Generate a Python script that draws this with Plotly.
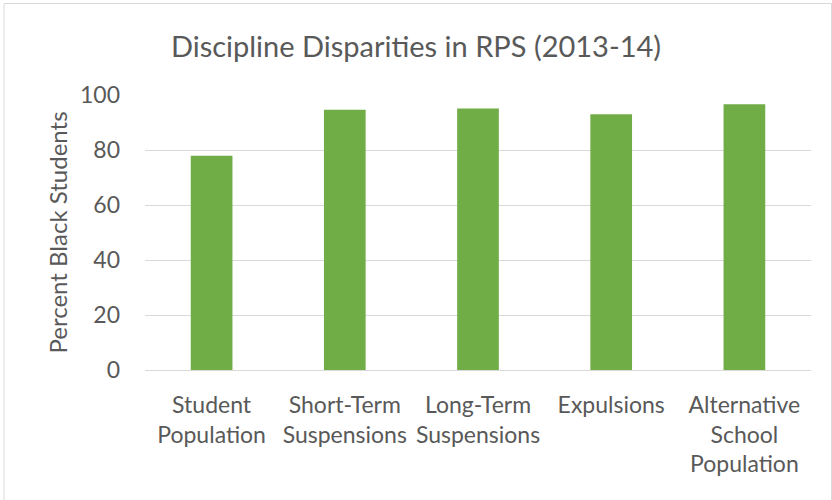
import plotly.graph_objects as go

categories = ["Student<br>Population", "Short-Term<br>Suspensions", "Long-Term<br>Suspensions",
              "Expulsions", "Alternative<br>School<br>Population"]
values = [77.9, 94.6, 95.1, 93.0, 96.6]
y_ticks = [0, 20, 40, 60, 80, 100]

FONT = "Lato"
TXT = "#595959"

fig = go.Figure(go.Bar(x=categories, y=values, marker=dict(color="#70AD47", line=dict(width=0)),
                       hoverinfo="x+y"))

fig.update_layout(
    width=832, height=500,
    paper_bgcolor="white", plot_bgcolor="white",
    margin=dict(l=145, r=21, t=95, b=130, autoexpand=False),
    bargap=0.687,
    font=dict(family=FONT, color=TXT, size=23),
    title=dict(text="Discipline Disparities in RPS (2013-14)", x=0.5, xanchor="center",
               y=1 - 47 / 500, yanchor="middle", font=dict(size=29, color=TXT, family=FONT)),
    showlegend=False,
    shapes=[dict(type="rect", xref="paper", yref="paper",
                 x0=(4 - 145) / 666, x1=(831.5 - 145) / 666,
                 y0=-(500 - 370 + 5) / 275, y1=1 + (95 - 3.5) / 275,
                 line=dict(color="#D9D9D9", width=1), layer="below")],
)
fig.update_yaxes(range=[0, 100], tickvals=y_ticks, showgrid=True, gridcolor="#D9D9D9", gridwidth=1,
                 zeroline=False, showline=False, ticks="", ticklabelstandoff=24,
                 title=dict(text="Percent Black Students", standoff=5, font=dict(size=24)),
                 tickfont=dict(size=23))
fig.update_xaxes(showline=True, linecolor="#D9D9D9", linewidth=1, ticks="", ticklabelstandoff=14,
                 tickfont=dict(size=23), tickangle=0)

fig.write_html("out.html", config={"displayModeBar": False},
               post_script="document.body.style.margin='0';document.body.style.overflow='hidden';")
